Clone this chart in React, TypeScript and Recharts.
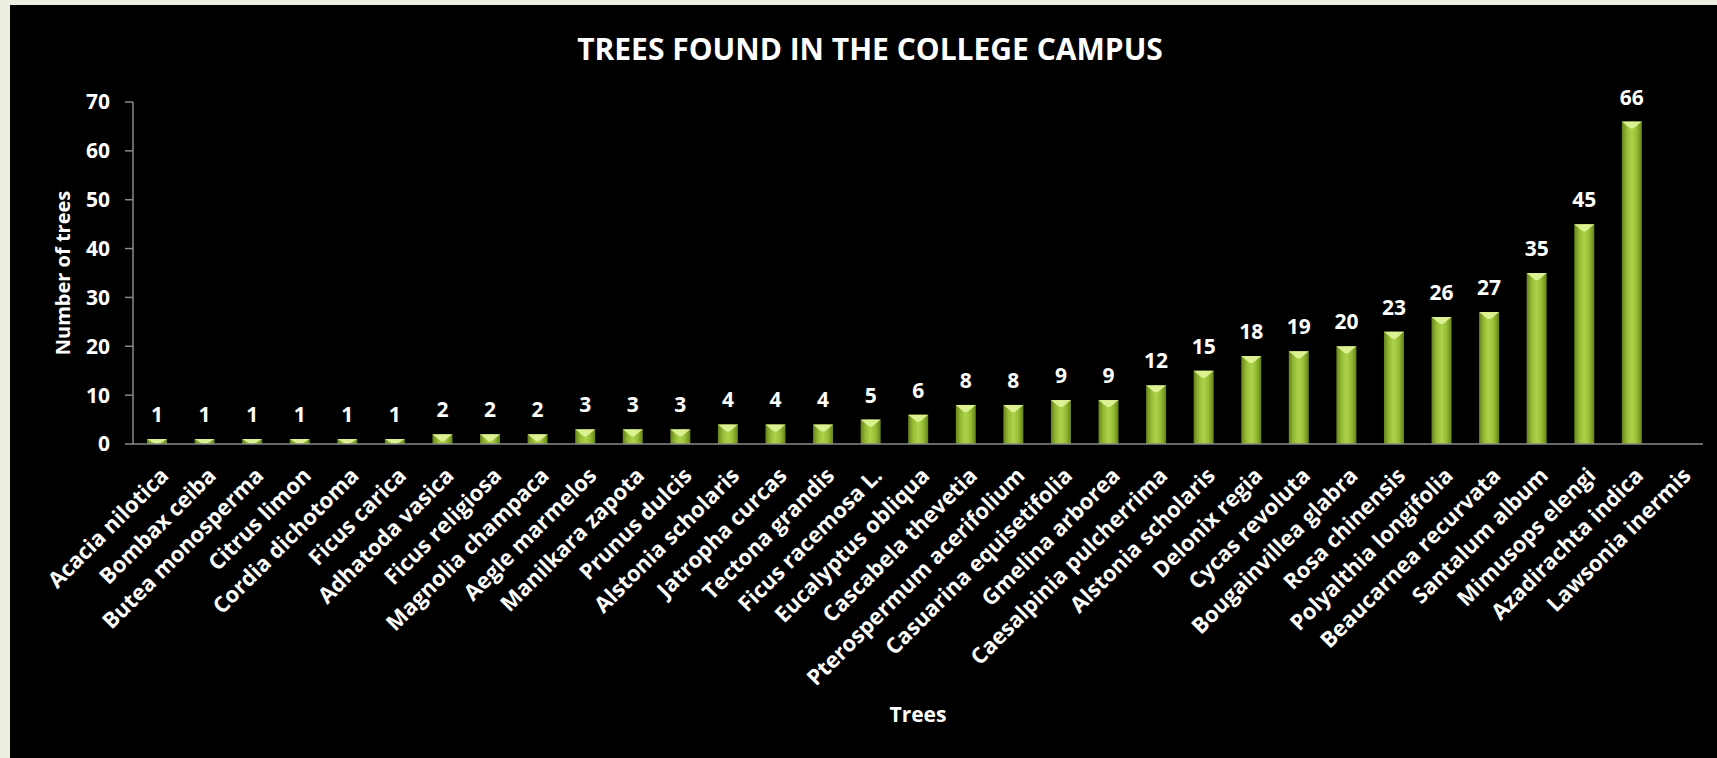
import React from "react";
import { BarChart, Bar, XAxis, YAxis, LabelList, Label } from "recharts";

const trees = [
  "Acacia nilotica", "Bombax ceiba", "Butea monosperma", "Citrus limon",
  "Cordia dichotoma", "Ficus carica", "Adhatoda vasica", "Ficus religiosa",
  "Magnolia champaca", "Aegle marmelos", "Manilkara zapota", "Prunus dulcis",
  "Alstonia scholaris", "Jatropha curcas", "Tectona grandis", "Ficus racemosa L.",
  "Eucalyptus obliqua", "Cascabela thevetia", "Pterospermum acerifolium",
  "Casuarina equisetifolia", "Gmelina arborea", "Caesalpinia pulcherrima",
  "Alstonia scholaris ", "Delonix regia", "Cycas revoluta", "Bougainvillea glabra",
  "Rosa chinensis", "Polyalthia longifolia", "Beaucarnea recurvata", "Santalum album",
  "Mimusops elengi", "Azadirachta indica", "Lawsonia inermis",
];

// last category has no bar in the original
const counts: (number | null)[] = [
  1, 1, 1, 1, 1, 1, 2, 2, 2, 3, 3, 3, 4, 4, 4, 5, 6, 8, 8, 9, 9,
  12, 15, 18, 19, 20, 23, 26, 27, 35, 45, 66, null,
];

const yTicks = [0, 10, 20, 30, 40, 50, 60, 70];

const data = trees.map((name, i) => ({ name, count: counts[i] }));

const FONT = "'Open Sans', sans-serif";
const AXIS = "#8a8a8a";

function GreenBar(props: any) {
  const { x, y, width, height } = props;
  if (height == null || height <= 0) return null;
  const cap = Math.min(7, height);
  return (
    <g>
      <rect x={x} y={y} width={width} height={height} fill="url(#barFill)" />
      <polygon
        points={`${x},${y} ${x + width},${y} ${x + width * 0.58},${y + cap} ${x + width * 0.42},${y + cap}`}
        fill="#e2f59a"
        opacity={0.9}
      />
    </g>
  );
}

function XTick(props: any) {
  const { x, y, payload } = props;
  const tx = x + 13;
  const ty = y + 33;
  return (
    <text
      x={tx}
      y={ty}
      transform={`rotate(-45 ${tx} ${ty})`}
      textAnchor="end"
      fill="#fff"
      fontSize={22}
      fontWeight={700}
      fontFamily={FONT}
    >
      {String(payload.value).trim()}
    </text>
  );
}

function ValueLabel(props: any) {
  const { x, y, width, value } = props;
  if (value == null) return null;
  return (
    <text
      x={x + width / 2}
      y={y - 17}
      textAnchor="middle"
      fill="#fff"
      fontSize={21}
      fontWeight={700}
      fontFamily={FONT}
    >
      {value}
    </text>
  );
}

export default function App() {
  return (
    <div style={{ position: "relative", width: 1717, height: 758, background: "#ebefdf", fontFamily: FONT, overflow: "hidden" }}>
      <style>{"body{margin:0}"}</style>
      <div style={{ position: "absolute", left: 10, top: 5, right: 0, bottom: 0, background: "#000" }} />
      <div
        style={{
          position: "absolute", left: 0, top: 34, width: 1740, textAlign: "center",
          color: "#fff", fontSize: 30, lineHeight: "30px", fontWeight: 700,
        }}
      >
        TREES FOUND IN THE COLLEGE CAMPUS
      </div>
      <div style={{ position: "absolute", left: 0, top: 0 }}>
        <BarChart
          width={1717}
          height={758}
          data={data}
          margin={{ top: 102, right: 14, bottom: 14, left: 0 }}
          style={{ fontFamily: FONT }}
        >
          <defs>
            <linearGradient id="barFill" x1="0" y1="0" x2="1" y2="0">
              <stop offset="0%" stopColor="#65821a" />
              <stop offset="25%" stopColor="#96bc35" />
              <stop offset="50%" stopColor="#aed24b" />
              <stop offset="75%" stopColor="#96bc35" />
              <stop offset="100%" stopColor="#65821a" />
            </linearGradient>
          </defs>
          <XAxis
            dataKey="name"
            interval={0}
            height={300}
            tickLine={false}
            tickSize={0}
            tickMargin={0}
            axisLine={{ stroke: AXIS, strokeWidth: 1.5 }}
            tick={<XTick />}
          >
            <Label
              content={(p: any) => (
                <text
                  x={p.viewBox.x + p.viewBox.width / 2}
                  y={p.viewBox.y + 278}
                  textAnchor="middle"
                  fill="#fff"
                  fontSize={21}
                  fontWeight={700}
                  fontFamily={FONT}
                >
                  Trees
                </text>
              )}
            />
          </XAxis>
          <YAxis
            domain={[0, 70]}
            ticks={yTicks}
            interval={0}
            width={133}
            tickSize={8}
            tickMargin={15}
            axisLine={{ stroke: AXIS, strokeWidth: 1.5 }}
            tickLine={{ stroke: AXIS, strokeWidth: 1.5 }}
            tick={{ fill: "#fff", fontSize: 21, fontWeight: 700, fontFamily: FONT }}
          >
            <Label
              content={(p: any) => {
                const cx = 62;
                const cy = p.viewBox.y + p.viewBox.height / 2;
                return (
                  <text
                    x={cx}
                    y={cy}
                    transform={`rotate(-90 ${cx} ${cy})`}
                    textAnchor="middle"
                    dominantBaseline="central"
                    fill="#fff"
                    fontSize={20}
                    fontWeight={700}
                    fontFamily={FONT}
                  >
                    Number of trees
                  </text>
                );
              }}
            />
          </YAxis>
          <Bar dataKey="count" barSize={20} shape={(p: any) => <GreenBar {...p} />} isAnimationActive={false}>
            <LabelList dataKey="count" content={(p: any) => <ValueLabel {...p} />} />
          </Bar>
        </BarChart>
      </div>
    </div>
  );
}
